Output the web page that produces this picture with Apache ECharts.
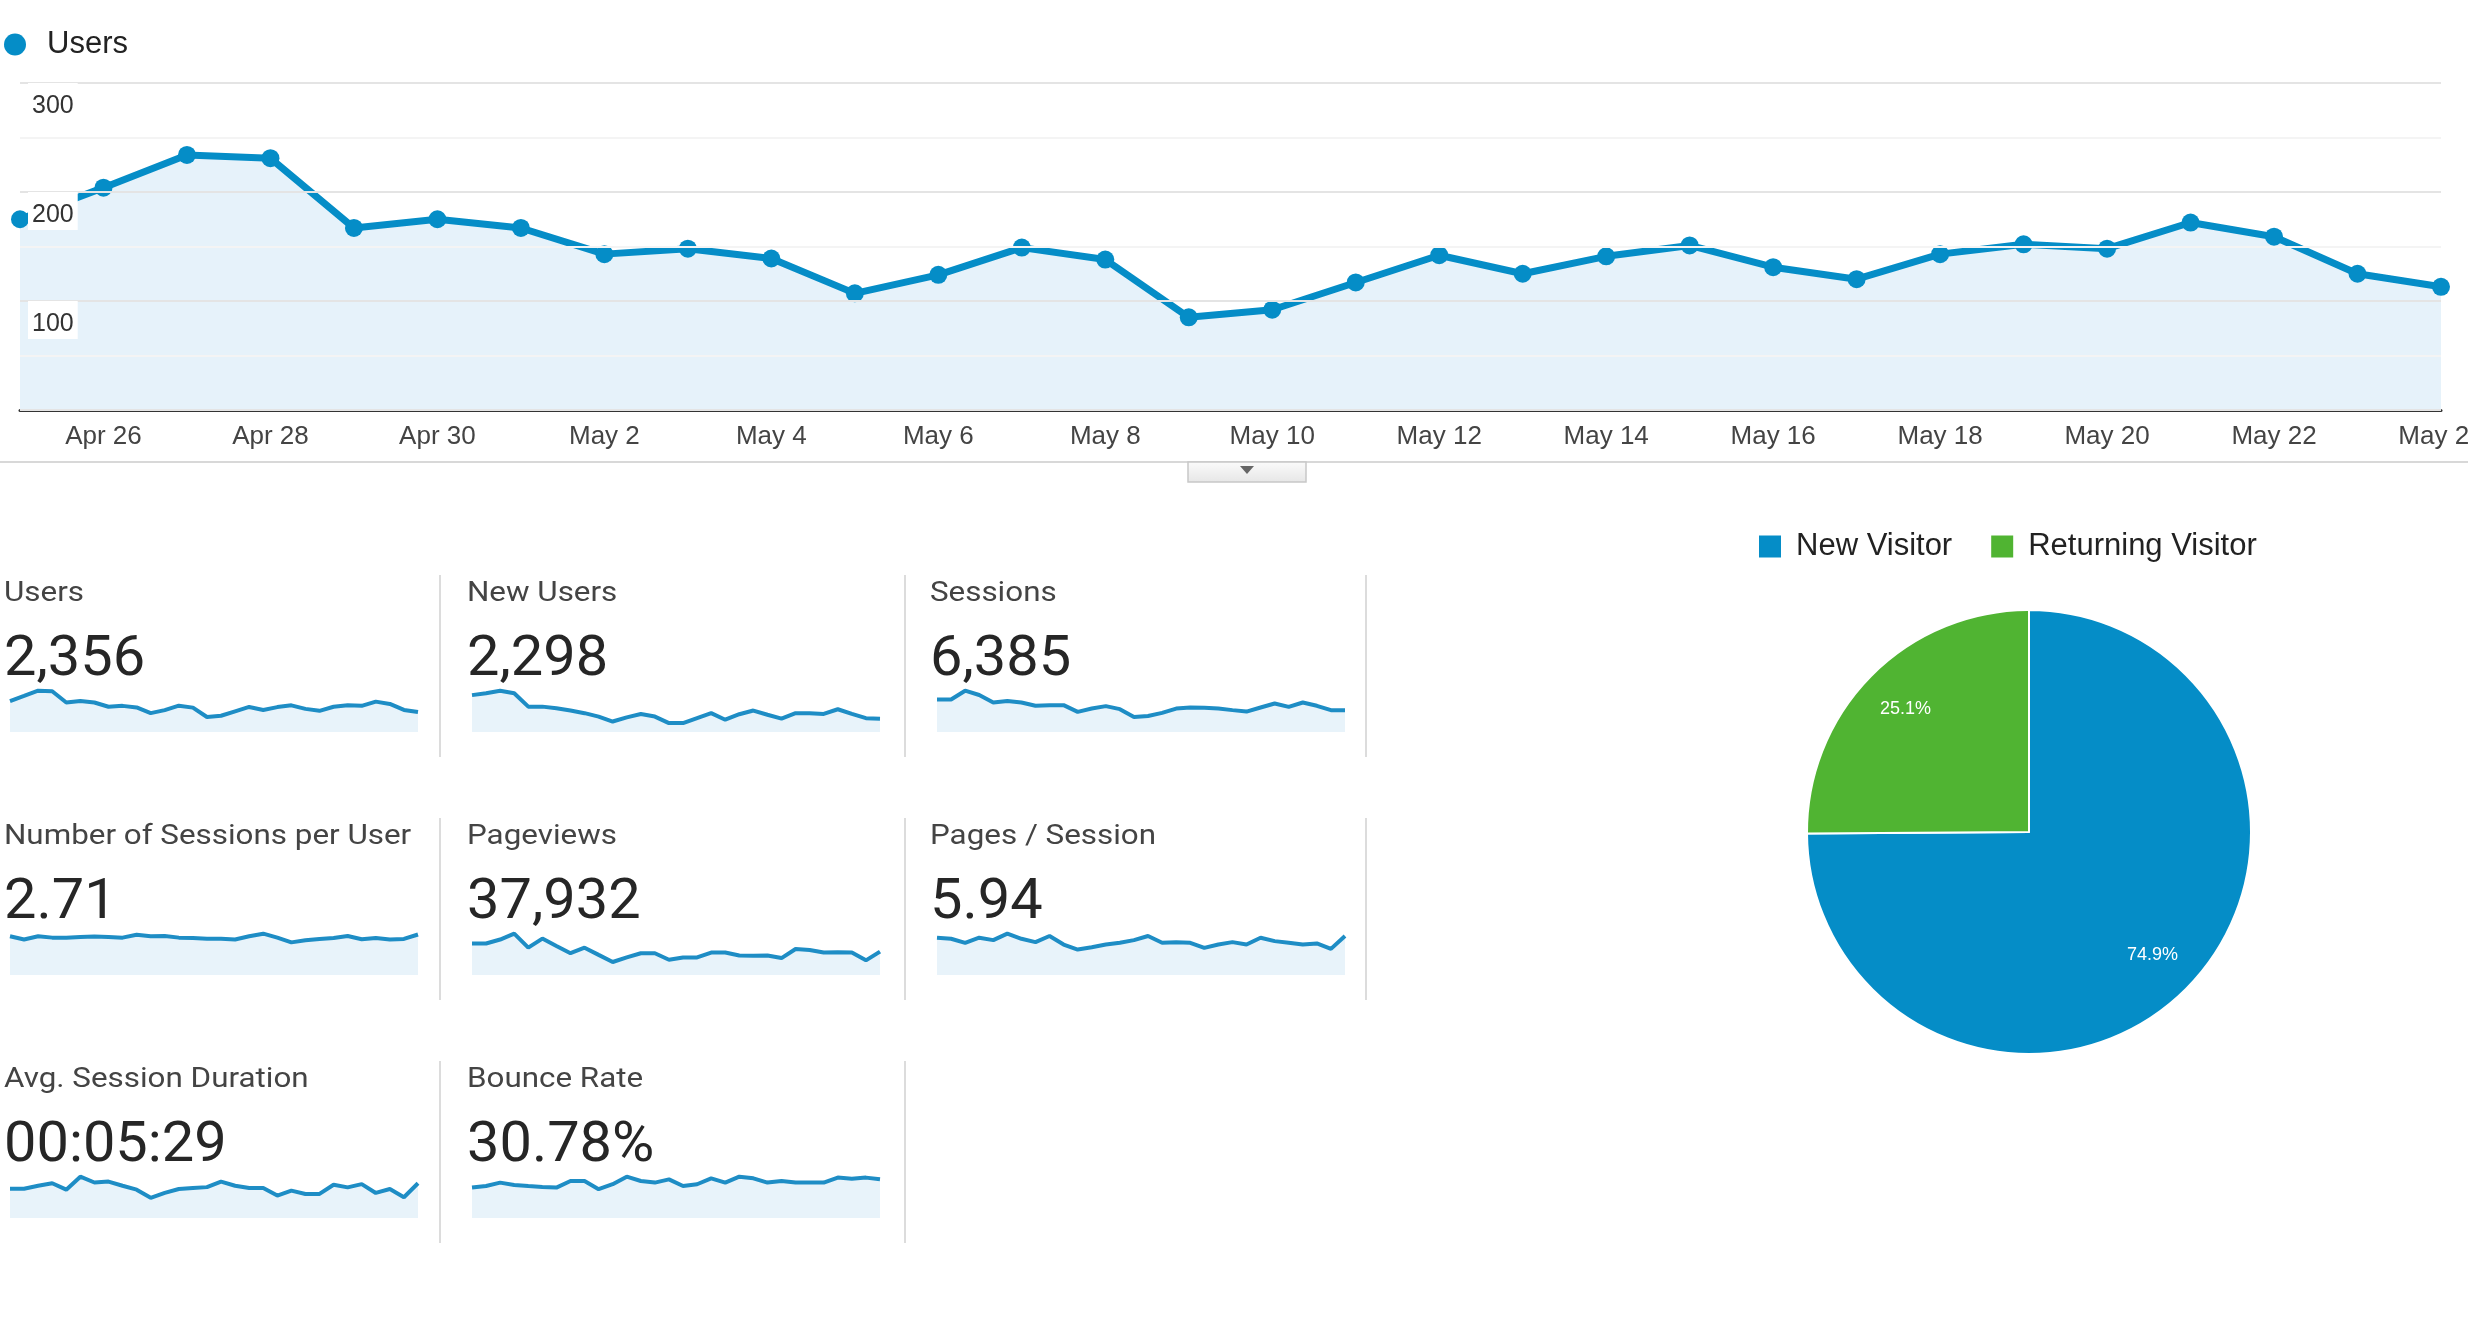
<!DOCTYPE html>
<html>
<head>
<meta charset="utf-8">
<title>Audience Overview</title>
<script src="https://cdn.jsdelivr.net/npm/echarts@6/dist/echarts.min.js"></script>
<style>
  html, body { margin: 0; padding: 0; background: #fff; }
  #main { width: 2468px; height: 1328px; }
</style>
</head>
<body>
<div id="main"></div>
<script>
// ---- data ----
var days = ['Apr 25', 'Apr 26', 'Apr 27', 'Apr 28', 'Apr 29', 'Apr 30', 'May 1', 'May 2', 'May 3', 'May 4',
            'May 5', 'May 6', 'May 7', 'May 8', 'May 9', 'May 10', 'May 11', 'May 12', 'May 13', 'May 14',
            'May 15', 'May 16', 'May 17', 'May 18', 'May 19', 'May 20', 'May 21', 'May 22', 'May 23', 'May 24'];
var users = [175, 204, 234, 231, 167, 175, 167, 143, 148, 139, 107, 124, 149, 138, 85,
             92, 117, 142, 125, 141, 151, 131, 120, 143, 152, 148, 172, 159, 125, 113];
var newUsers = [141, 148, 158, 148, 97, 97, 91, 82, 72, 59, 40, 56, 69, 59, 34,
                34, 53, 72, 47, 68, 82, 66, 51, 72, 72, 69, 87, 69, 53, 51];
var sessions = [269, 269, 342, 306, 244, 256, 244, 217, 222, 222, 167, 194, 214, 189, 125,
                133, 158, 194, 203, 200, 194, 181, 169, 203, 236, 208, 244, 217, 181, 181];
var sessionsPerUser = [1.47, 1.35, 1.47, 1.42, 1.42, 1.44, 1.46, 1.44, 1.42, 1.53, 1.47, 1.48, 1.42, 1.41, 1.38,
                       1.38, 1.35, 1.47, 1.57, 1.42, 1.24, 1.32, 1.37, 1.41, 1.48, 1.36, 1.41, 1.35, 1.37, 1.54];
var pageviews = [1701, 1701, 1912, 2228, 1473, 1964, 1561, 1175, 1473, 1087, 702, 947, 1175, 1175, 824,
                 947, 947, 1210, 1210, 1052, 1035, 1052, 912, 1403, 1351, 1210, 1228, 1210, 789, 1263];
var pagesPerSession = [6.67, 6.48, 5.76, 6.67, 6.24, 7.39, 6.48, 5.88, 6.97, 5.45, 4.55, 4.97, 5.45, 5.76, 6.24,
                       6.97, 5.76, 5.88, 5.76, 4.85, 5.45, 5.88, 5.45, 6.67, 6.06, 5.76, 5.45, 5.64, 4.67, 6.97];
var avgDuration = [323, 323, 355, 383, 312, 455, 391, 401, 355, 312, 222, 276, 319, 330, 340,
                   401, 355, 330, 330, 247, 301, 265, 265, 366, 337, 373, 276, 319, 229, 383];
var bounceRate = [26.2, 27.6, 30.5, 28.5, 27.6, 26.8, 26.2, 31.9, 31.9, 24.8, 29.1, 35.6, 31.9, 30.5, 33.3,
                  27.6, 29.1, 34.2, 30.5, 35.6, 34.2, 30.5, 31.9, 30.5, 30.5, 30.5, 34.8, 33.9, 34.8, 33.3];

var yTicks = [100, 200, 300];

var cardNames = ['Users', 'New Users', 'Sessions', 'Number of Sessions per User', 'Pageviews',
                 'Pages / Session', 'Avg. Session Duration', 'Bounce Rate'];
var cardValues = ['2,356', '2,298', '6,385', '2.71', '37,932', '5.94', '00:05:29', '30.78%'];
var cardSeries = [users, newUsers, sessions, sessionsPerUser, pageviews, pagesPerSession, avgDuration, bounceRate];

var visitorTypes = ['New Visitor', 'Returning Visitor'];
var visitorShares = [74.9, 25.1];

// ---- layout ----
var BLUE = '#058dc7';
var GREEN = '#50b432';
var colText = [4, 467, 930];
var colSpark = [10, 472, 937];
var colSep = [440, 905, 1366];
var rowLabel = [594, 837, 1080];   // middle of label text
var rowValue = [661, 904, 1147];   // middle of value text
var rowSpark = [688, 931, 1174];

var chart = echarts.init(document.getElementById('main'));

var grids = [{ left: 20, right: 27, top: 83, height: 327, outerBoundsMode: 'none', containLabel: false }];
var xAxes = [{
  type: 'category',
  data: days,
  boundaryGap: false,
  axisTick: { show: false },
  axisLine: { lineStyle: { color: '#333', width: 3 } },
  axisLabel: {
    interval: function (i) { return i % 2 === 1; },
    margin: 14,
    fontFamily: 'Arial',
    fontSize: 26,
    color: '#444'
  }
}];
var yAxes = [{
  type: 'value',
  min: 0, max: 300, interval: 50,
  z: 3,
  axisLine: { show: false },
  axisTick: { show: false },
  splitLine: { lineStyle: { color: ['#e4e4e4', '#f4f4f4'], width: 2 } },
  axisLabel: {
    customValues: yTicks,
    inside: true,
    margin: 8,
    verticalAlign: 'top',
    padding: [11, 4, 2, 4],
    backgroundColor: '#fff',
    fontFamily: 'Arial',
    fontSize: 25,
    color: '#333'
  }
}];

var series = [{
  name: 'Users',
  type: 'line',
  data: users,
  xAxisIndex: 0, yAxisIndex: 0,
  symbol: 'circle',
  symbolSize: 18,
  lineStyle: { color: BLUE, width: 7 },
  itemStyle: { color: BLUE },
  areaStyle: { color: '#e6f2fa', opacity: 1 },
  z: 2
}];

var graphics = [];

cardNames.forEach(function (name, k) {
  var r = Math.floor(k / 3), c = k % 3;
  grids.push({ left: colSpark[c], top: rowSpark[r], width: 408, height: 44, outerBoundsMode: 'none' });
  xAxes.push({ type: 'category', gridIndex: k + 1, data: days, boundaryGap: false, show: false });
  yAxes.push({
    type: 'value', gridIndex: k + 1, show: false, min: 0,
    max: function (v) { return v.max * 1.065; }
  });
  series.push({
    name: name + ' trend',
    type: 'line',
    xAxisIndex: k + 1, yAxisIndex: k + 1,
    data: cardSeries[k],
    symbol: 'none',
    silent: true,
    lineStyle: { color: '#1e8dc5', width: 4 },
    areaStyle: { color: '#e8f3fa', opacity: 1 }
  });
  graphics.push({
    type: 'text', x: colText[c], y: rowLabel[r], scaleX: 1.12,
    style: { text: name, x: 0, y: 0, verticalAlign: 'middle', font: '28px Roboto', fill: '#444' }
  });
  graphics.push({
    type: 'text', x: colText[c], y: rowValue[r], scaleX: 1.05,
    style: { text: cardValues[k], x: 0, y: 0, verticalAlign: 'middle', font: '55px Roboto', fill: '#262626' }
  });
  graphics.push({
    type: 'line',
    shape: { x1: colSep[c], y1: rowLabel[r] - 19, x2: colSep[c], y2: rowLabel[r] + 163 },
    style: { stroke: '#dcdcdc', lineWidth: 2 }
  });
});

// divider under the main chart and its small tab
graphics.push({
  type: 'line',
  shape: { x1: 0, y1: 462, x2: 2468, y2: 462 },
  style: { stroke: '#d8d8d8', lineWidth: 2 }
});
graphics.push({
  type: 'rect',
  shape: { x: 1188, y: 462, width: 118, height: 20 },
  style: {
    fill: new echarts.graphic.LinearGradient(0, 0, 0, 1, [
      { offset: 0, color: '#fbfbfb' }, { offset: 1, color: '#e6e6e6' }
    ]),
    stroke: '#c8c8c8', lineWidth: 1.5
  }
});
graphics.push({
  type: 'polygon',
  shape: { points: [[1240, 466], [1254, 466], [1247, 474]] },
  style: { fill: '#666' }
});

var pieCenter = [2029, 832];
series.push({
  name: 'Visitor type',
  type: 'pie',
  center: pieCenter,
  radius: [0, 222],
  startAngle: 90,
  clockwise: true,
  data: visitorTypes.map(function (t, i) { return { name: t, value: visitorShares[i] }; }),
  color: [BLUE, GREEN],
  itemStyle: { borderColor: '#fff', borderWidth: 2 },
  label: { show: false },
  labelLine: { show: false },
  silent: true
});
// transparent ring carrying the percentage labels further out in each slice
series.push({
  name: 'Visitor type labels',
  type: 'pie',
  center: pieCenter,
  radius: [120, 222],
  startAngle: 90,
  clockwise: true,
  data: visitorTypes.map(function (t, i) { return { name: t, value: visitorShares[i] }; }),
  itemStyle: { color: 'rgba(0,0,0,0)' },
  label: {
    show: true,
    position: 'inside',
    formatter: function (p) { return p.value + '%'; },
    color: '#fff',
    fontFamily: 'Arial',
    fontSize: 18
  },
  labelLine: { show: false },
  silent: true,
  z: 3
});

var option = {
  backgroundColor: '#fff',
  animation: false,
  legend: [{
    data: ['Users'],
    left: 4, top: 29,
    icon: 'circle',
    itemWidth: 22, itemHeight: 22,
    padding: 0,
    textStyle: { fontFamily: 'Arial', fontSize: 31, color: '#222', padding: [0, 0, 0, 16] }
  }, {
    data: visitorTypes,
    left: 1757, top: 531,
    icon: 'rect',
    itemWidth: 24, itemHeight: 24,
    itemGap: 37,
    padding: 0,
    textStyle: { fontFamily: 'Arial', fontSize: 31, color: '#222', padding: [0, 0, 0, 9] }
  }],
  grid: grids,
  xAxis: xAxes,
  yAxis: yAxes,
  series: series,
  graphic: graphics
};

chart.setOption(option);
</script>
</body>
</html>
